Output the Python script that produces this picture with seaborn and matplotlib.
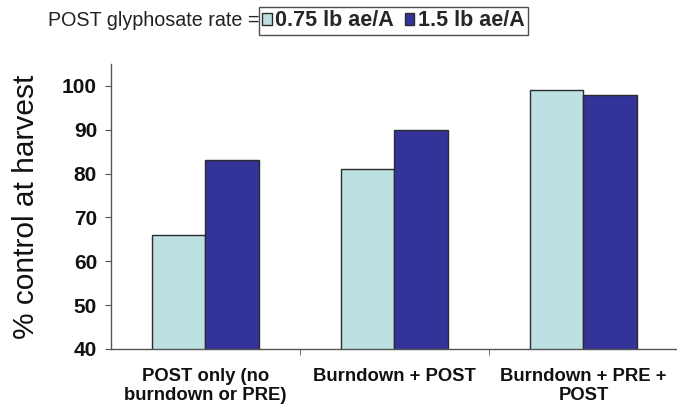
import matplotlib
matplotlib.use("Agg")
import matplotlib.pyplot as plt
import seaborn as sns
import pandas as pd
from matplotlib.patches import Patch
from matplotlib.ticker import FixedLocator

categories = ["POST only (no\nburndown or PRE)", "Burndown + POST", "Burndown + PRE +\nPOST"]
rates = ["0.75 lb ae/A", "1.5 lb ae/A"]
vals_075 = [66, 81, 99]
vals_15 = [83, 90, 98]
yticks = [40, 50, 60, 70, 80, 90, 100]

colors = ["#BDE0E3", "#333399"]

df = pd.DataFrame({
    "cat": categories * 2,
    "rate": [rates[0]] * 3 + [rates[1]] * 3,
    "val": vals_075 + vals_15,
})

sns.set_style("white")
plt.rcParams["font.family"] = ["Liberation Sans", "DejaVu Sans"]

fig = plt.figure(figsize=(6.77, 4.04), dpi=100)
ax = fig.add_axes([111/677, 1-349/404, (678-111)/677, (349-64)/404])

sns.barplot(data=df, x="cat", y="val", hue="rate", palette=colors,
            edgecolor="#2b2b2b", linewidth=1.0, width=0.57, ax=ax,
            legend=False, saturation=1)

ax.set_ylim(40, 105)
ax.set_xlim(-0.5, 2.5)
ax.set_yticks(yticks)
ax.set_yticklabels([str(t) for t in yticks], fontsize=15, fontweight="bold", color="#111111")
ax.set_xticks([0, 1, 2])
ax.set_xticklabels(categories, fontsize=13.3, fontweight="bold", color="#111111",
                   linespacing=1.1)
ax.tick_params(axis="x", which="major", length=0, pad=14)
ax.xaxis.set_minor_locator(FixedLocator([0.5, 1.5, 2.5]))
ax.tick_params(axis="x", which="minor", length=4, color="#555555", direction="out", bottom=True)
ax.tick_params(axis="y", length=4, color="#555555", direction="out", left=True, pad=6)
ax.set_xlabel("")
ax.set_ylabel("% control at harvest", fontsize=21.5, labelpad=16, color="#111111")
for s in ["top", "right"]:
    ax.spines[s].set_visible(False)
for s in ["left", "bottom"]:
    ax.spines[s].set_color("#555555")
    ax.spines[s].set_linewidth(1.0)

fig.text(48/677, 1-21/404, "POST glyphosate rate =", fontsize=14.2, va="center", ha="left", color="#222222")
handles = [Patch(facecolor=colors[0], edgecolor="#2b2b2b"), Patch(facecolor=colors[1], edgecolor="#2b2b2b")]
leg = fig.legend(handles, rates, loc="center left", bbox_to_anchor=(259/677, 1-21/404),
                 ncol=2, frameon=True, fancybox=False, handlelength=0.45, handleheight=0.45,
                 handletextpad=0.15, columnspacing=0.5, borderpad=0.15, borderaxespad=0,
                 prop={"size": 15.5, "weight": "bold"})
leg.get_frame().set_edgecolor("#222222")
leg.get_frame().set_linewidth(1.0)

fig.savefig("out.png", dpi=100)
